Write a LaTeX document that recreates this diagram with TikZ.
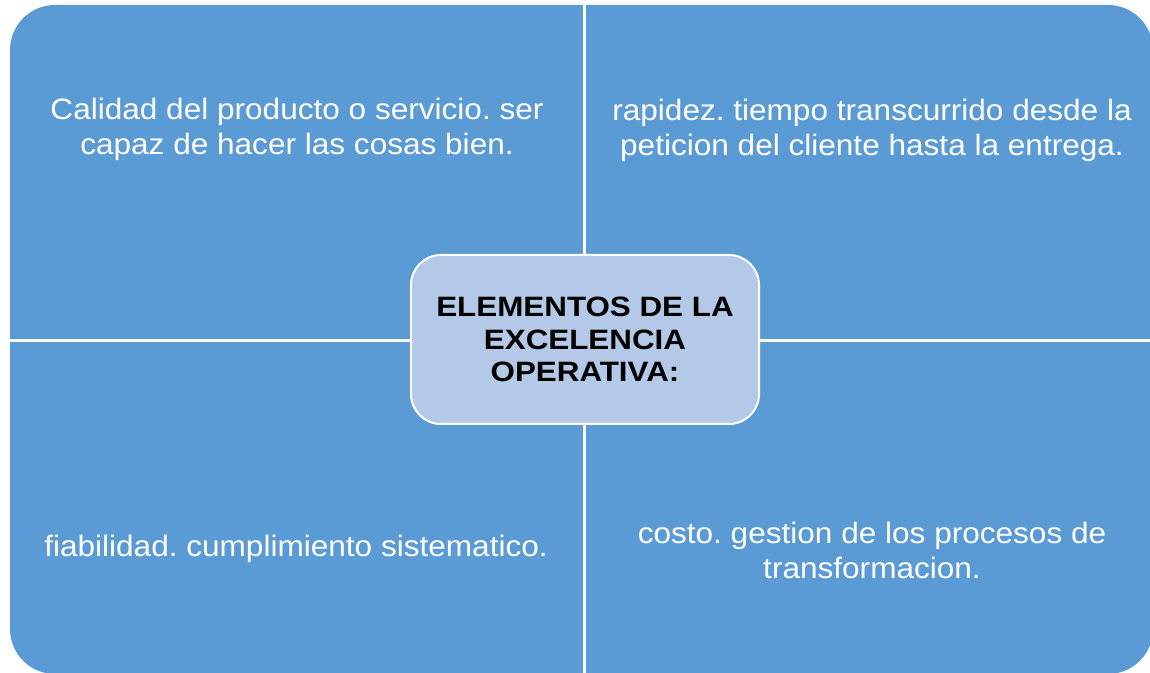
\documentclass[tikz,border=0pt]{standalone}
\usepackage{fontspec}
\setmainfont{Liberation Sans}
\newfontfamily\wfont[FakeStretch=1.07]{Liberation Sans}
\newfontfamily\bfontx[FakeStretch=1.12]{Liberation Sans Bold}
\definecolor{quad}{HTML}{5B9BD5}
\definecolor{hub}{HTML}{B4C8E7}
\frenchspacing
\tikzset{
  qtext/.style={text=white, align=center, font=\wfont\fontsize{29.5}{35}\selectfont\frenchspacing, inner sep=0pt},
  hubbox/.style={draw=white, line width=2pt, fill=hub, rounded corners=30pt, minimum width=348pt, minimum height=169pt, inner sep=0pt, align=center, font=\bfontx\fontsize{28}{32.5}\selectfont, text=black},
  divider/.style={draw=white, line width=3pt}
}
\begin{document}
\begin{tikzpicture}[x=1pt,y=1pt]
\useasboundingbox (0,0) rectangle (1150,672);
\begin{scope}
\clip (0,0) rectangle (1150,672);
\fill[quad, rounded corners=45pt] (10,-2) rectangle (1153,667);
\coordinate (vtop) at (584.5,672);
\coordinate (vbot) at (584.5,-5);
\coordinate (hl) at (0,331.5);
\coordinate (hr) at (1155,331.5);
\draw[divider] (vtop) -- (vbot);
\draw[divider] (hl) -- (hr);
\end{scope}
\node[hubbox] (hub) at (585,332.5) {ELEMENTOS DE LA\\EXCELENCIA\\OPERATIVA:};
\node[qtext] (q1) at (297,543) {Calidad del producto o servicio. ser\\capaz de hacer las cosas bien.};
\node[qtext] (q2) at (872,542) {rapidez. tiempo transcurrido desde la\\peticion del cliente hasta la entrega.};
\node[qtext] (q3) at (296,123) {fiabilidad. cumplimiento sistematico.};
\node[qtext] (q4) at (872,122) {costo. gestion de los procesos de\\transformacion.};
\end{tikzpicture}
\end{document}
